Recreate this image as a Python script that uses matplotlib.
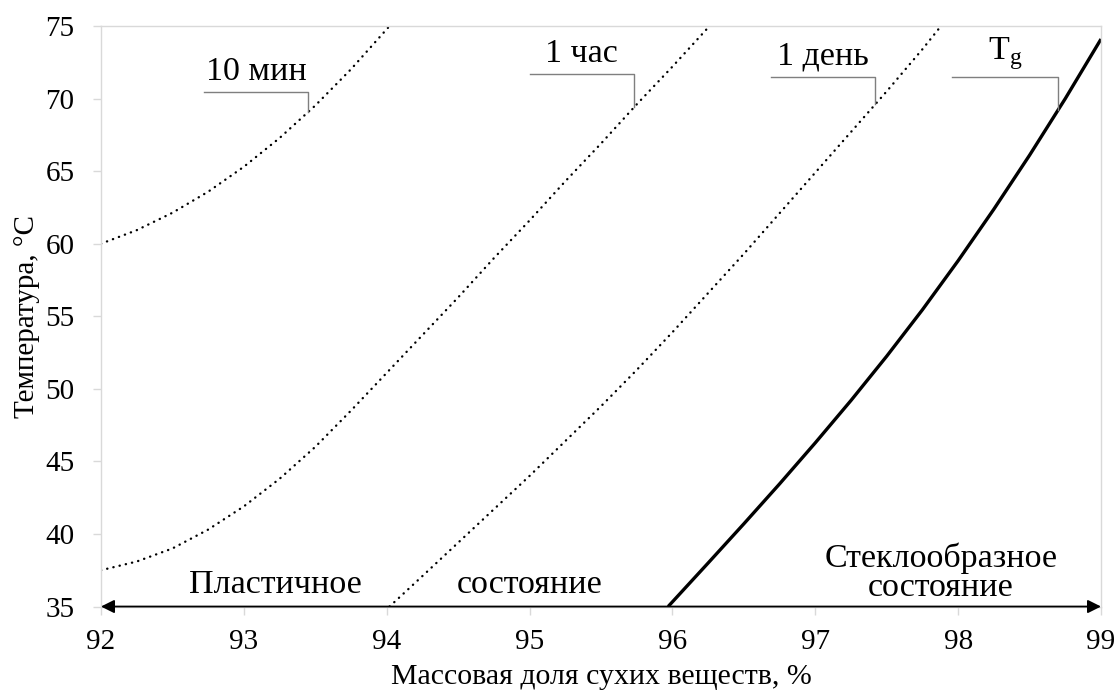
import numpy as np
import matplotlib
matplotlib.use("Agg")
import matplotlib.pyplot as plt

plt.rcParams['font.family'] = ['Liberation Serif', 'DejaVu Serif']

# Isochrones of crystallisation time and the glass-transition line
x_10min = [92.0, 92.25, 92.5, 92.75, 93.0, 93.25, 93.5, 93.75, 94.02]
t_10min = [60.0, 60.93, 62.13, 63.58, 65.3, 67.28, 69.52, 72.02, 75.0]

x_1hour = [92.0, 92.25, 92.5, 92.75, 93.0, 93.25, 93.5, 93.75, 94.0,
           94.25, 94.5, 94.75, 95.0, 95.25, 95.5, 95.75, 96.0, 96.26]
t_1hour = [37.5, 38.1, 39.0, 40.3, 41.9, 43.8, 46.0, 48.5, 51.1,
           53.7, 56.3, 59.0, 61.6, 64.3, 66.9, 69.6, 72.2, 75.0]

x_1day = [94.02, 94.25, 94.5, 94.75, 95.0, 95.25, 95.5, 95.75, 96.0,
          96.25, 96.5, 96.75, 97.0, 97.25, 97.5, 97.75, 97.88]
t_1day = [35.0, 37.1, 39.4, 41.7, 44.0, 46.4, 48.8, 51.3, 53.9,
          56.6, 59.3, 62.1, 64.9, 67.7, 70.5, 73.4, 75.0]

x_tg = [95.97, 96.25, 96.5, 96.75, 97.0, 97.25, 97.5, 97.75,
        98.0, 98.25, 98.5, 98.75, 99.0]
t_tg = [35.0, 38.0, 40.7, 43.45, 46.28, 49.2, 52.25, 55.45,
        58.83, 62.38, 66.1, 70.0, 74.1]

x_ticks = [92, 93, 94, 95, 96, 97, 98, 99]
y_ticks = [35, 40, 45, 50, 55, 60, 65, 70, 75]

curve_labels = ['10 мин', '1 час', '1 день', r'T$_\mathregular{g}$']

fig = plt.figure(figsize=(11.17, 6.95), dpi=100)
ax = fig.add_axes([0.0904, 0.1273, 0.8953, 0.8353])

dot = (0, (0.1, 2.6))
for xs, ts in [(x_10min, t_10min), (x_1hour, t_1hour), (x_1day, t_1day)]:
    ax.plot(xs, ts, color='black', lw=1.7, linestyle=dot,
            dash_capstyle='round', solid_joinstyle='round')
ax.plot(x_tg, t_tg, color='black', lw=2.4, solid_capstyle='butt',
        solid_joinstyle='round')

ax.set_xlim(92, 99)
ax.set_ylim(35, 75)
ax.set_xticks(x_ticks)
ax.set_yticks(y_ticks)

grey = '#d9d9d9'
for s in ax.spines.values():
    s.set_color(grey)
    s.set_linewidth(1.0)
ax.tick_params(axis='both', color=grey, length=6, width=1, labelsize=21)
ax.tick_params(axis='y', pad=13)
ax.tick_params(axis='x', pad=10)

ax.set_xlabel('Массовая доля сухих веществ, %', fontsize=21.5, labelpad=7)
ax.set_ylabel('Температура, °C', fontsize=21, labelpad=4)

# State axis arrow along the bottom
ax.annotate('', xy=(99, 35), xytext=(92, 35),
            arrowprops=dict(arrowstyle='<|-|>', color='black', lw=1.3,
                            mutation_scale=20, shrinkA=0, shrinkB=0),
            annotation_clip=False, zorder=5)

# Callouts: (left end of shelf, point on curve, shelf height)
callouts = [
    (92.72, 93.45, 70.45, x_10min, t_10min),
    (95.00, 95.73, 71.7, x_1hour, t_1hour),
    (96.69, 97.42, 71.5, x_1day, t_1day),
    (97.96, 98.70, 71.5, x_tg, t_tg),
]
for label, (xl, xp, yh, xs, ts) in zip(curve_labels, callouts):
    yp = np.interp(xp, xs, ts)
    ax.plot([xl, xp, xp], [yh, yh, yp], color='#7f7f7f', lw=1.0)
    ax.text((xl + xp) / 2, yh + 0.35, label, fontsize=24.5, ha='center', va='bottom')

ax.text(93.22, 35.9, 'Пластичное', fontsize=24.5, ha='center', va='baseline')
ax.text(95.0, 35.9, 'состояние', fontsize=24.5, ha='center', va='baseline')
ax.text(97.88, 37.75, 'Стеклообразное', fontsize=24.5, ha='center', va='baseline')
ax.text(97.88, 35.75, 'состояние', fontsize=24.5, ha='center', va='baseline')

fig.savefig('out.png', dpi=100)
